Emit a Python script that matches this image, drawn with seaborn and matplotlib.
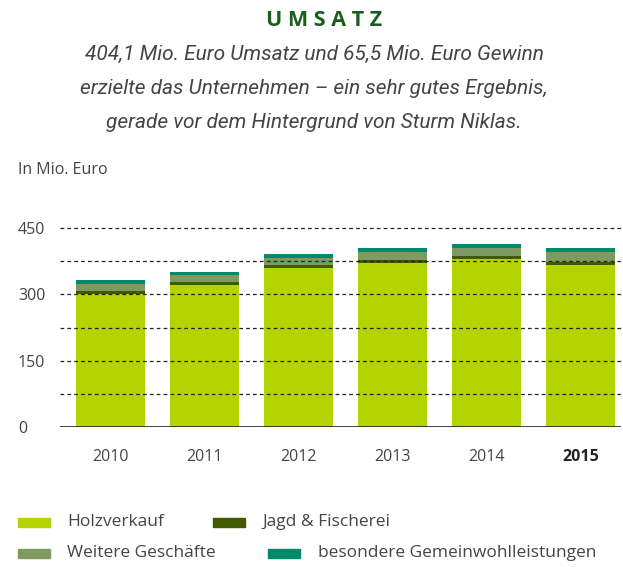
import matplotlib
matplotlib.use("Agg")
import matplotlib.pyplot as plt
import seaborn as sns
import pandas as pd
from matplotlib.patches import Rectangle

# --- data (Mio. Euro) ---
years = ["2010", "2011", "2012", "2013", "2014", "2015"]
holzverkauf = [301, 321, 360, 371, 380, 366]
jagd_fischerei = [6, 7, 7, 7, 7, 8]
weitere_geschaefte = [17, 16, 16, 18, 18, 21]
gemeinwohl = [8, 7, 9, 9, 9, 9]

series_names = ["Holzverkauf", "Jagd & Fischerei", "Weitere Geschäfte",
                "besondere Gemeinwohlleistungen"]
colors = ["#b3d400", "#3f5a00", "#7f9a60", "#008a6a"]
ytick_vals = [0, 150, 300, 450]
grid_vals = [75, 150, 225, 300, 375, 450]

sns.set_theme(style="white")
plt.rcParams["font.family"] = ["Open Sans", "DejaVu Sans"]
LABEL = "#444444"

df = pd.DataFrame({
    "year": years,
    series_names[0]: holzverkauf,
    series_names[1]: jagd_fischerei,
    series_names[2]: weitere_geschaefte,
    series_names[3]: gemeinwohl,
})

fig = plt.figure(figsize=(6.23, 5.67), dpi=100)
W, H = 623, 567
# axes: x 60..621 px, y 0 at 427 px, 450 at 228 px
ax = fig.add_axes([60 / W, (H - 427) / H, (621 - 60) / W, (427 - 228) / H])

# stacked bars, drawn layer by layer with seaborn
bottom = [0] * len(years)
for name, col in zip(series_names, colors):
    sns.barplot(data=df, x="year", y=name, color=col, width=0.735,
                bottom=bottom, ax=ax, saturation=1, linewidth=0, zorder=2)
    bottom = [b + v for b, v in zip(bottom, df[name])]

ax.set_xlim(-0.54, 5.43)
ax.set_ylim(0, 450)

# dashed grid lines
for g in grid_vals:
    ax.axhline(g, color="#222222", linestyle=(0, (3, 2.5)), linewidth=0.9,
               zorder=3, clip_on=False)
ax.axhline(0, color="#222222", linewidth=1.2, zorder=4)

for s in ax.spines.values():
    s.set_visible(False)

ax.set_xlabel("")
ax.set_ylabel("")
ax.set_yticks(ytick_vals)
ax.set_yticklabels([str(v) for v in ytick_vals])
# pad in points: label left edge at x=18 px
ax.tick_params(axis="y", length=0, pad=(60 - 18) * 0.72, labelsize=11.5,
               labelcolor=LABEL)
for lab in ax.get_yticklabels():
    lab.set_horizontalalignment("left")

ax.tick_params(axis="x", length=0, pad=16, labelsize=11.5, labelcolor=LABEL)
xl = ax.get_xticklabels()
xl[-1].set_fontweight("bold")
xl[-1].set_color("#222222")

# title and subtitle
fig.text(324 / W, 1 - 20 / H, "U M S A T Z", ha="center", va="center",
         fontsize=15.5, fontweight="bold", color="#1b5e1b")
subtitle = ["404,1 Mio. Euro Umsatz und 65,5 Mio. Euro Gewinn",
            "erzielte das Unternehmen – ein sehr gutes Ergebnis,",
            "gerade vor dem Hintergrund von Sturm Niklas."]
for i, line in enumerate(subtitle):
    fig.text(314 / W, 1 - (54 + i * 34) / H, line, ha="center", va="center",
             fontsize=15, style="italic", color=LABEL,
             family=["Roboto", "DejaVu Sans"])

fig.text(18 / W, 1 - 170 / H, "In Mio. Euro", ha="left", va="center",
         fontsize=11.5, color=LABEL)

# legend drawn by hand (the columns are not aligned in the original)
legend_pos = [(18, 522, 67), (213, 522, 262), (18, 553, 67), (268, 553, 318)]
for (px, py, tx), name, col in zip(legend_pos, series_names, colors):
    fig.add_artist(Rectangle((px / W, 1 - (py + 4.5) / H), 32 / W, 9 / H,
                             transform=fig.transFigure, color=col))
    fig.text(tx / W, 1 - py / H, name, ha="left", va="center",
             fontsize=12.5, color=LABEL)

fig.savefig("out.png", dpi=100)
